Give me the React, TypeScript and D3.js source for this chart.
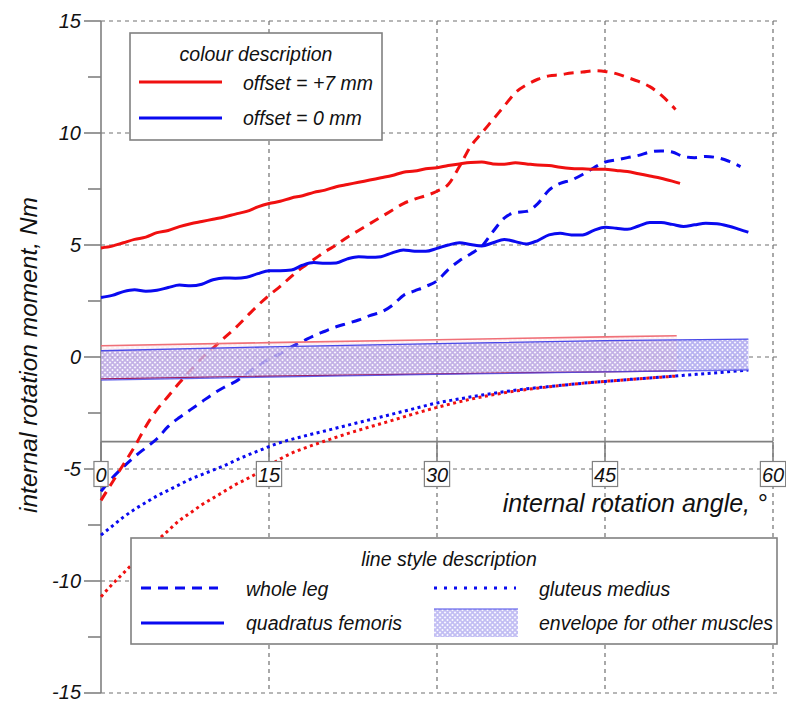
import * as d3 from "d3";
import { useEffect, useRef } from "react";

const W = 786;
const H = 702;
const FONT = "'Liberation Sans', Arial, sans-serif";
const RED = "#f01010";
const BLUE = "#0a0af0";

const X_TICKS = [0, 15, 30, 45, 60];
const Y_TICKS = [15, 10, 5, 0, -5, -10, -15];
const Y_MINOR = [12.5, 7.5, 2.5, -2.5, -7.5, -12.5];
const X_AXIS_AT = -3.78;

// whole leg, offset +7 mm
const WHOLE_LEG_7: [number, number][] = [
  [0, -6.4], [1, -5.6], [2, -4.8], [3, -4.0], [4, -3.1], [5, -2.35], [6, -1.75], [7, -1.15],
  [8, -0.6], [9, -0.05], [10, 0.4], [11, 0.85], [12, 1.3], [13, 1.8], [14, 2.3], [15, 2.75],
  [16, 3.15], [17, 3.6], [18, 4.0], [19, 4.35], [20, 4.7], [21, 5.0], [22, 5.35], [23, 5.65],
  [24, 5.95], [25, 6.25], [26, 6.55], [27, 6.85], [28, 7.05], [29, 7.2], [30, 7.4], [31, 7.7],
  [32, 8.5], [33, 9.4], [34, 10.0], [35, 10.6], [36, 11.2], [37, 11.8], [38, 12.15], [39, 12.4],
  [40, 12.55], [41, 12.6], [42, 12.68], [43, 12.72], [44, 12.78], [45, 12.75], [46, 12.65],
  [47, 12.48], [48, 12.3], [49, 12.07], [50, 11.7], [51.3, 11.05],
];

// whole leg, offset 0 mm
const WHOLE_LEG_0: [number, number][] = [
  [0, -6.0], [1, -5.4], [2, -4.9], [3, -4.45], [4, -4.05], [5, -3.65], [6, -3.1], [7, -2.7],
  [8, -2.35], [9, -2.0], [10, -1.65], [11, -1.35], [12, -1.1], [13, -0.75], [14, -0.4], [15, -0.1],
  [16, 0.15], [17, 0.45], [18, 0.7], [19, 0.95], [20, 1.15], [21, 1.35], [22, 1.5], [23, 1.65],
  [24, 1.85], [25, 2.0], [26, 2.3], [27, 2.75], [28, 2.95], [29, 3.15], [30, 3.4], [31, 3.9],
  [32, 4.3], [33, 4.6], [34, 4.95], [35, 5.6], [36, 6.2], [37, 6.45], [38, 6.5], [39, 6.85],
  [40, 7.45], [41, 7.75], [42, 7.9], [43, 8.15], [44, 8.45], [45, 8.7], [46, 8.8], [47, 8.9],
  [48, 9.0], [49, 9.15], [50, 9.2], [51, 9.15], [52, 8.95], [53, 8.9], [54, 8.95], [55, 8.9],
  [56, 8.75], [57.1, 8.5],
];

// quadratus femoris, offset +7 mm
const QUAD_FEM_7: [number, number][] = [
  [0, 4.87], [1, 4.95], [2, 5.1], [3, 5.25], [4, 5.35], [5, 5.55], [6, 5.65], [7, 5.82],
  [8, 5.95], [9, 6.05], [10, 6.15], [11, 6.25], [12, 6.38], [13, 6.5], [14, 6.7], [15, 6.85],
  [16, 6.95], [17, 7.1], [18, 7.2], [19, 7.35], [20, 7.45], [21, 7.6], [22, 7.7], [23, 7.8],
  [24, 7.9], [25, 8.0], [26, 8.1], [27, 8.25], [28, 8.3], [29, 8.4], [30, 8.45], [31, 8.55],
  [32, 8.62], [33, 8.68], [34, 8.7], [35, 8.62], [36, 8.6], [37, 8.67], [38, 8.62], [39, 8.57],
  [40, 8.55], [41, 8.47], [42, 8.42], [43, 8.4], [44, 8.38], [45, 8.38], [46, 8.33], [47, 8.28],
  [48, 8.18], [49, 8.08], [50, 7.98], [51, 7.85], [51.7, 7.75],
];

// quadratus femoris, offset 0 mm
const QUAD_FEM_0: [number, number][] = [
  [0, 2.66], [1, 2.75], [2, 2.92], [3, 3.0], [4, 2.93], [5, 2.98], [6, 3.1], [7, 3.21],
  [8, 3.18], [9, 3.25], [10, 3.45], [11, 3.53], [12, 3.52], [13, 3.56], [14, 3.72], [15, 3.85],
  [16, 3.85], [17, 3.88], [18, 4.1], [19, 4.22], [20, 4.18], [21, 4.2], [22, 4.38], [23, 4.48],
  [24, 4.45], [25, 4.48], [26, 4.65], [27, 4.78], [28, 4.72], [29, 4.72], [30, 4.85], [31, 5.0],
  [32, 5.1], [33, 5.02], [34, 4.96], [35, 5.1], [36, 5.25], [37, 5.15], [38, 5.04], [39, 5.2],
  [40, 5.45], [41, 5.52], [42, 5.45], [43, 5.45], [44, 5.65], [45, 5.79], [46, 5.75], [47, 5.7],
  [48, 5.85], [49, 6.0], [50, 6.0], [51, 5.92], [52, 5.83], [53, 5.9], [54, 5.97], [55, 5.95],
  [56, 5.85], [57, 5.7], [57.8, 5.57],
];

// gluteus medius, offset +7 mm
const GLUT_MED_7: [number, number][] = [
  [0, -10.7], [1, -10.15], [2, -9.65], [3, -9.15], [4, -8.65], [5, -8.2], [6, -7.75], [7, -7.3],
  [8, -6.95], [9, -6.6], [10, -6.3], [11, -6.0], [12, -5.7], [13, -5.45], [14, -5.17], [15, -4.85],
  [16, -4.55], [17, -4.3], [18, -4.1], [19, -3.92], [20, -3.75], [22, -3.42], [24, -3.12],
  [26, -2.83], [28, -2.53], [30, -2.25], [32, -2.0], [34, -1.78], [36, -1.6], [38, -1.45],
  [40, -1.33], [42, -1.22], [44, -1.13], [46, -1.05], [48, -0.97], [50, -0.9], [51.4, -0.85],
];

// gluteus medius, offset 0 mm
const GLUT_MED_0: [number, number][] = [
  [0, -7.95], [1, -7.55], [2, -7.15], [3, -6.8], [4, -6.5], [5, -6.2], [6, -5.95], [7, -5.7],
  [8, -5.45], [9, -5.25], [10, -5.05], [11, -4.85], [12, -4.62], [13, -4.4], [14, -4.2], [15, -4.0],
  [16, -3.82], [17, -3.68], [18, -3.55], [19, -3.42], [20, -3.3], [22, -3.05], [24, -2.8],
  [26, -2.55], [28, -2.3], [30, -2.05], [32, -1.87], [34, -1.7], [36, -1.55], [38, -1.42],
  [40, -1.32], [42, -1.22], [44, -1.13], [46, -1.05], [48, -0.97], [50, -0.9], [52, -0.82],
  [54, -0.74], [56, -0.66], [57.8, -0.58],
];

// envelope for other muscles: [angle, lower, upper]
const ENVELOPE_7: [number, number, number][] = [
  [0, -0.98, 0.5], [15, -0.85, 0.64], [30, -0.75, 0.77], [45, -0.66, 0.9], [51.4, -0.62, 0.95],
];
const ENVELOPE_0: [number, number, number][] = [
  [0, -1.03, 0.28], [15, -0.9, 0.45], [30, -0.78, 0.6], [45, -0.66, 0.73], [57.8, -0.58, 0.8],
];

const DASH = "10,7";
const DOT = "3,3.5";

export default function App() {
  const ref = useRef<SVGSVGElement | null>(null);

  useEffect(() => {
    const svg = d3.select(ref.current);
    svg.selectAll("*").remove();

    const x = d3.scaleLinear().domain([0, 60]).range([101, 773]);
    const y = d3.scaleLinear().domain([-15, 15]).range([693, 21]);

    const defs = svg.append("defs");
    const mkPattern = (id: string, bg: string, stroke: string) => {
      const p = defs
        .append("pattern")
        .attr("id", id)
        .attr("patternUnits", "userSpaceOnUse")
        .attr("width", 5)
        .attr("height", 5);
      p.append("rect").attr("width", 5).attr("height", 5).attr("fill", bg);
      p.append("path")
        .attr("d", "M-1,-1 L6,6 M6,-1 L-1,6")
        .attr("stroke", stroke)
        .attr("stroke-width", 1.7);
    };
    mkPattern("hatchBlue", "#f6f6ff", "#a8a2ee");
    mkPattern("hatchRed", "#fff6f8", "#f0a8b8");

    // grid
    const grid = svg.append("g").attr("stroke", "#707070").attr("stroke-width", 1.2).attr("stroke-dasharray", "4,4");
    Y_TICKS.forEach((v) => {
      grid.append("line").attr("x1", x(0)).attr("x2", 779).attr("y1", y(v)).attr("y2", y(v));
    });
    X_TICKS.filter((v) => v > 0).forEach((v) => {
      grid.append("line").attr("x1", x(v)).attr("x2", x(v)).attr("y1", y(15)).attr("y2", y(-15));
    });

    // axes
    const ax = svg.append("g").attr("stroke", "#808080").attr("stroke-width", 1.6);
    ax.append("line").attr("x1", x(0)).attr("x2", x(0)).attr("y1", y(15)).attr("y2", y(-15));
    Y_TICKS.forEach((v) => {
      ax.append("line").attr("x1", 84).attr("x2", x(0)).attr("y1", y(v)).attr("y2", y(v));
    });
    Y_MINOR.forEach((v) => {
      ax.append("line").attr("x1", 88).attr("x2", x(0)).attr("y1", y(v)).attr("y2", y(v));
    });
    ax.append("line").attr("x1", x(0)).attr("x2", x(60)).attr("y1", y(X_AXIS_AT)).attr("y2", y(X_AXIS_AT));
    X_TICKS.forEach((v) => {
      ax.append("line").attr("x1", x(v)).attr("x2", x(v)).attr("y1", y(X_AXIS_AT)).attr("y2", 462);
    });

    // curves
    const line = d3
      .line<[number, number]>()
      .x((d) => x(d[0]))
      .y((d) => y(d[1]))
      .curve(d3.curveMonotoneX);
    const curves = svg.append("g").attr("fill", "none").attr("stroke-width", 3);
    const series: [[number, number][], string, string][] = [
      [GLUT_MED_7, RED, DOT],
      [GLUT_MED_0, BLUE, DOT],
      [WHOLE_LEG_0, BLUE, DASH],
      [WHOLE_LEG_7, RED, DASH],
      [QUAD_FEM_0, BLUE, "none"],
      [QUAD_FEM_7, RED, "none"],
    ];
    series.forEach(([data, color, dash]) => {
      curves
        .append("path")
        .attr("d", line(data))
        .attr("stroke", color)
        .attr("stroke-dasharray", dash)
        .attr("stroke-linejoin", "round");
    });

    // envelopes
    const area = d3
      .area<[number, number, number]>()
      .x((d) => x(d[0]))
      .y0((d) => y(d[1]))
      .y1((d) => y(d[2]));
    const edge = (idx: 1 | 2) =>
      d3
        .line<[number, number, number]>()
        .x((d) => x(d[0]))
        .y((d) => y(d[idx]));
    const env = svg.append("g");
    env.append("path").attr("d", area(ENVELOPE_0)).attr("fill", "url(#hatchBlue)").attr("opacity", 0.82);
    env.append("path").attr("d", area(ENVELOPE_7)).attr("fill", "url(#hatchRed)").attr("opacity", 0.2);
    env.append("path").attr("d", edge(2)(ENVELOPE_7)).attr("stroke", "#f07078").attr("stroke-width", 1.6).attr("fill", "none");
    env.append("path").attr("d", edge(1)(ENVELOPE_7)).attr("stroke", "#a02060").attr("stroke-width", 1.2).attr("fill", "none");
    env.append("path").attr("d", edge(2)(ENVELOPE_0)).attr("stroke", "#4a4ae8").attr("stroke-width", 1.3).attr("fill", "none");
    env.append("path").attr("d", edge(1)(ENVELOPE_0)).attr("stroke", "#4a4ae8").attr("stroke-width", 1.3).attr("fill", "none").attr("opacity", 0.8);

    const txt = (g: any, tx: number, ty: number, s: string, size: number, anchor = "start") =>
      g
        .append("text")
        .attr("x", tx)
        .attr("y", ty)
        .attr("font-family", FONT)
        .attr("font-style", "italic")
        .attr("font-size", size)
        .attr("text-anchor", anchor)
        .attr("fill", "#111")
        .text(s);

    // y tick labels
    Y_TICKS.forEach((v) => txt(svg, 81, Math.min(y(v) + 7, 699), String(v), 20, "end"));

    // x tick labels in boxes
    X_TICKS.forEach((v) => {
      const g = svg.append("g");
      const t = txt(g, x(v), 481.5, String(v), 20, "middle");
      const w = (t.node() as SVGTextElement).getComputedTextLength();
      g.insert("rect", "text")
        .attr("x", x(v) - w / 2 - 1.5)
        .attr("y", 461.5)
        .attr("width", w + 3)
        .attr("height", 25)
        .attr("fill", "#fff")
        .attr("stroke", "#808080")
        .attr("stroke-width", 1.2);
    });

    // axis titles
    txt(svg, 767, 512, "internal rotation angle,  °", 25, "end");
    txt(svg, 0, 0, "internal rotation moment, Nm", 24.5, "middle").attr(
      "transform",
      `translate(37,${355}) rotate(-90)`
    );

    // colour legend
    const lg1 = svg.append("g");
    lg1.append("rect").attr("x", 130).attr("y", 33).attr("width", 252).attr("height", 107)
      .attr("fill", "#fff").attr("stroke", "#808080").attr("stroke-width", 1.6);
    txt(lg1, 256, 61, "colour description", 19.5, "middle");
    lg1.append("line").attr("x1", 139).attr("x2", 222).attr("y1", 82).attr("y2", 82).attr("stroke", RED).attr("stroke-width", 3);
    txt(lg1, 243, 90, "offset = +7 mm", 19.5);
    lg1.append("line").attr("x1", 139).attr("x2", 222).attr("y1", 118).attr("y2", 118).attr("stroke", BLUE).attr("stroke-width", 3);
    txt(lg1, 243, 125, "offset = 0 mm", 19.5);

    // line style legend
    const lg2 = svg.append("g");
    lg2.append("rect").attr("x", 131).attr("y", 538).attr("width", 646).attr("height", 106)
      .attr("fill", "#fff").attr("stroke", "#808080").attr("stroke-width", 1.6);
    txt(lg2, 449, 566, "line style description", 19.5, "middle");
    lg2.append("line").attr("x1", 141).attr("x2", 218).attr("y1", 588).attr("y2", 588)
      .attr("stroke", BLUE).attr("stroke-width", 3).attr("stroke-dasharray", DASH);
    txt(lg2, 246, 596, "whole leg", 19.5);
    lg2.append("line").attr("x1", 141).attr("x2", 224).attr("y1", 623).attr("y2", 623)
      .attr("stroke", BLUE).attr("stroke-width", 3);
    txt(lg2, 246, 630, "quadratus femoris", 19.5);
    lg2.append("line").attr("x1", 434).attr("x2", 516).attr("y1", 588).attr("y2", 588)
      .attr("stroke", BLUE).attr("stroke-width", 3).attr("stroke-dasharray", "3,7");
    txt(lg2, 539, 596, "gluteus medius", 19.5);
    lg2.append("rect").attr("x", 434).attr("y", 609).attr("width", 84).attr("height", 28)
      .attr("fill", "url(#hatchBlue)").attr("opacity", 0.7);
    lg2.append("line").attr("x1", 434).attr("x2", 518).attr("y1", 609).attr("y2", 609)
      .attr("stroke", "#4a4ae8").attr("stroke-width", 1.2);
    txt(lg2, 539, 630, "envelope for other muscles", 19.5);
  }, []);

  return (
    <div style={{ position: "absolute", left: 0, top: 0 }}>
      <svg ref={ref} width={W} height={H} viewBox={`0 0 ${W} ${H}`} style={{ display: "block", background: "#fff" }} />
    </div>
  );
}
